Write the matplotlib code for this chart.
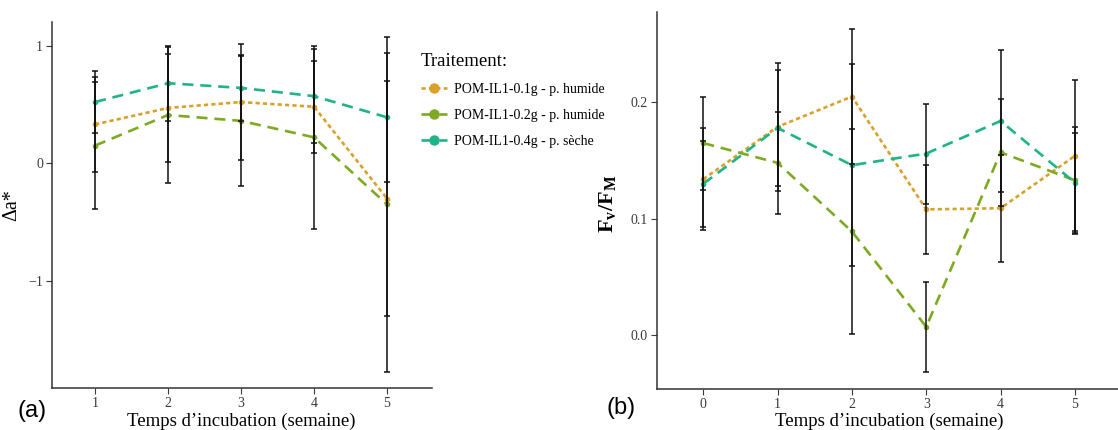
import matplotlib
matplotlib.use("Agg")
import matplotlib.pyplot as plt
from matplotlib.lines import Line2D

plt.rcParams['font.family'] = ['Liberation Serif', 'DejaVu Serif']
plt.rcParams['mathtext.fontset'] = 'custom'
plt.rcParams['mathtext.rm'] = 'Liberation Serif'
plt.rcParams['mathtext.bf'] = 'Liberation Serif:bold'
plt.rcParams['mathtext.it'] = 'Liberation Serif:italic'

# ---------------- data ----------------
series_names = ["POM-IL1-0.1g - p. humide", "POM-IL1-0.2g - p. humide", "POM-IL1-0.4g - p. sèche"]
colors = ["#D9A02A", "#7EA923", "#1FB487"]

# panel (a): delta a*
weeks_a = [1, 2, 3, 4, 5]
a_01 = [0.33, 0.47, 0.52, 0.48, -0.30]
a_02 = [0.15, 0.41, 0.36, 0.22, -0.35]
a_04 = [0.52, 0.68, 0.64, 0.57, 0.39]
a_01_sd = [0.40, 0.46, 0.49, 0.39, 1.00]
a_02_sd = [0.54, 0.58, 0.55, 0.78, 1.42]
a_04_sd = [0.26, 0.32, 0.28, 0.40, 0.55]

# panel (b): Fv/Fm
weeks_b = [0, 1, 2, 3, 4, 5]
b_01 = [0.134, 0.179, 0.205, 0.108, 0.109, 0.154]
b_02 = [0.165, 0.148, 0.089, 0.007, 0.157, 0.133]
b_04 = [0.130, 0.178, 0.146, 0.156, 0.184, 0.131]
b_01_sd = [0.044, 0.055, 0.058, 0.038, 0.046, 0.065]
b_02_sd = [0.040, 0.044, 0.088, 0.039, 0.046, 0.046]
b_04_sd = [0.037, 0.050, 0.087, 0.043, 0.061, 0.043]

xticks_a = [1, 2, 3, 4, 5]
yticks_a = [-1, 0, 1]
xticks_b = [0, 1, 2, 3, 4, 5]
yticks_b = [0.0, 0.1, 0.2]
xlabel_text = "Temps d\u2019incubation (semaine)"

W, H = 1118, 430
fig = plt.figure(figsize=(W / 100, H / 100), dpi=100)

def ax_from_px(l, r, t, b):
    return fig.add_axes([l / W, 1 - b / H, (r - l) / W, (b - t) / H])

dash_styles = [(0, (1.6, 1.2)), (0, (4.2, 2.6)), (0, (4.2, 2.6))]
spine_col = "#333333"
tick_col = "#3a3a3a"

def style_axes(ax):
    for s in ["top", "right"]:
        ax.spines[s].set_visible(False)
    for s in ["left", "bottom"]:
        ax.spines[s].set_color(spine_col)
        ax.spines[s].set_linewidth(1.1)
    ax.tick_params(direction="out", length=4, width=0.8, color=tick_col,
                   labelcolor=tick_col, labelsize=10, pad=2.5)
    ax.set_facecolor("none")

def draw(ax, x, ys, sds):
    for y, c, ls in zip(ys, colors, dash_styles):
        ax.plot(x, y, color=c, lw=1.9, linestyle=ls, zorder=2)
        ax.plot(x, y, "o", color=c, ms=3, zorder=2)
    for y, sd in zip(ys, sds):
        ax.errorbar(x, y, yerr=sd, fmt="none", ecolor="#111111", elinewidth=1.1,
                    capsize=2.3, capthick=1.1, zorder=3)

# panel (a)
axa = ax_from_px(52, 432, 22, 388)
draw(axa, weeks_a, [a_01, a_02, a_04], [a_01_sd, a_02_sd, a_04_sd])
axa.set_xlim(0.41, 5.616)
axa.set_ylim(-1.909, 1.2)
axa.set_xticks(xticks_a)
axa.set_yticks(yticks_a)
axa.set_yticklabels(["\u22121", "0", "1"])
style_axes(axa)
axa.set_ylabel("\u0394a*", fontsize=14.5)
axa.yaxis.set_label_coords(-0.082, 0.5)

# panel (b)
axb = ax_from_px(656.7, 1118, 12, 389)
draw(axb, weeks_b, [b_01, b_02, b_04], [b_01_sd, b_02_sd, b_04_sd])
axb.set_xlim(-0.627, 5.58)
axb.set_ylim(-0.0464, 0.2777)
axb.set_xticks(xticks_b)
axb.set_yticks(yticks_b)
axb.set_yticklabels(["0.0", "0.1", "0.2"])
style_axes(axb)
axb.set_ylabel(r"$\mathbf{F_{v}/F_{M}}$", fontsize=16)
axb.yaxis.set_label_coords(-0.084, 0.49)

# x labels (placed at the bottom edge as in the reference)
fig.text(241 / W, 0.5 / H, xlabel_text, fontsize=13.5, ha="center", va="bottom")
fig.text(889 / W, 0.5 / H, xlabel_text, fontsize=13.5, ha="center", va="bottom")

# legend
handles = [Line2D([0], [0], color=c, lw=1.9, linestyle=ls, marker="o", ms=6.5)
           for c, ls in zip(colors, dash_styles)]
leg = fig.legend(handles, series_names, title="Traitement:", loc="upper left",
                 bbox_to_anchor=(415 / W, 1 - 47 / H), frameon=False,
                 fontsize=10, title_fontsize=13.5, handlelength=1.9,
                 labelspacing=0.95, handletextpad=0.5, borderaxespad=0)
leg._legend_box.align = "left"

# panel tags
fig.text(32 / W, 1 - 411 / H, "(a)", fontsize=17, family="Liberation Sans",
         ha="center", va="center")
fig.text(621 / W, 1 - 408 / H, "(b)", fontsize=17, family="Liberation Sans",
         ha="center", va="center")

fig.savefig("out.png", dpi=100)
